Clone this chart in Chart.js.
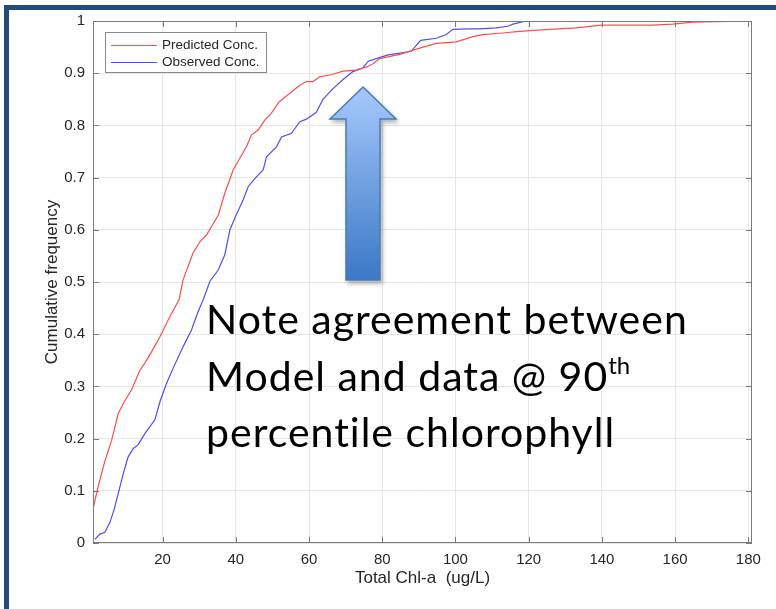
<!DOCTYPE html>
<html>
<head>
<meta charset="utf-8">
<script src="https://cdn.jsdelivr.net/npm/chart.js@4.4.1/dist/chart.umd.min.js"></script>
<style>
html, body { margin: 0; padding: 0; background: #fff; }
#wrap { position: relative; width: 776px; height: 609px; overflow: hidden; background: #fff; }
#frame { position: absolute; left: 4px; top: 5px; width: 900px; height: 700px;
         border-top: 5px solid #24497d; border-left: 5px solid #24497d; }
#c { position: absolute; left: 0; top: 0; }
#arrow { position: absolute; left: 0; top: 0; }
#note { position: absolute; left: 206px; top: 291px; font: 41px Lato, sans-serif; letter-spacing: 1px;
        line-height: 56.5px; color: #000; white-space: nowrap; }
#note sup { font-size: 24px; vertical-align: 17px; line-height: 0; letter-spacing: 0; }
#legend { position: absolute; left: 105px; top: 32px; width: 160px; height: 39px;
          border: 1px solid #8a8a8a; background: #fff;
          font: 13.5px "Liberation Sans", Arial, sans-serif; color: #262626; }
.row { position: absolute; left: 0; width: 160px; height: 18px; line-height: 18px; }
.sw { position: absolute; left: 5px; top: 9px; width: 46px; height: 0; border-top: 1px solid; }
.lab { position: absolute; left: 56px; white-space: nowrap; }
</style>
</head>
<body>
<div id="wrap">
  <canvas id="c" width="776" height="609"></canvas>
  <div id="frame"></div>
  <svg id="arrow" width="776" height="609">
    <defs>
      <linearGradient id="g" x1="0" y1="0" x2="0" y2="1">
        <stop offset="0" stop-color="#a6c9fc"/>
        <stop offset="1" stop-color="#3b78c6"/>
      </linearGradient>
      <filter id="sh" x="-30%" y="-10%" width="160%" height="130%">
        <feDropShadow dx="2" dy="3" stdDeviation="2" flood-color="#000" flood-opacity="0.3"/>
      </filter>
    </defs>
    <polygon points="363,87 396,119 380,119 380,280 346,280 346,119 330,119"
             fill="url(#g)" stroke="#4a7ab3" stroke-width="1.5" filter="url(#sh)"/>
  </svg>
  <div id="note">Note agreement between<br>Model and data @ 90<sup>th</sup><br>percentile chlorophyll</div>
  <div id="legend">
    <div class="row" style="top:3px"><span class="sw" style="border-color:#ff4d4d"></span><span class="lab">Predicted Conc.</span></div>
    <div class="row" style="top:20px"><span class="sw" style="border-color:#4d4dff"></span><span class="lab">Observed Conc.</span></div>
  </div>
</div>
<script>
// Predicted (model) cumulative frequency
const predX = [1, 2.4, 4.2, 6.1, 7.9, 9.5, 11.5, 13.8, 15.2, 17.3, 19.3, 22, 24.5, 25.6, 28.3, 30.2, 32, 35.2, 37, 39.3,
  41.1, 42.9, 44.3, 46.1, 47.9, 49.7, 51.8, 54.7, 57.5, 59.3, 61.1, 62.9, 66.1, 69.3, 72.9, 75.7, 77.5, 79.3, 84.8,
  89.3, 94.8, 100.2, 104.8, 107.5, 112.9, 117.5, 125.7, 133, 139.8, 153.9, 159.3, 164.8, 181];
const predY = [0.065, 0.108, 0.156, 0.197, 0.248, 0.27, 0.293, 0.331, 0.345, 0.37, 0.395, 0.434, 0.466, 0.504, 0.555,
  0.577, 0.59, 0.628, 0.67, 0.715, 0.737, 0.759, 0.782, 0.791, 0.81, 0.823, 0.845, 0.861, 0.877, 0.884, 0.884, 0.893,
  0.897, 0.904, 0.906, 0.912, 0.918, 0.928, 0.936, 0.946, 0.957, 0.96, 0.97, 0.974, 0.977, 0.98, 0.984, 0.987, 0.992,
  0.992, 0.994, 0.998, 1.0];

// Observed cumulative frequency
const obsX = [1.5, 2.9, 4.2, 5.6, 6.8, 7.9, 9.3, 10.6, 12, 13.3, 15.2, 17.9, 19.3, 21.1, 22.9, 25.6, 27.9, 29.7, 31.1,
  32.9, 35.2, 37, 38.4, 40.2, 42, 43.4, 45.7, 47.5, 48.4, 51.1, 52.5, 55.2, 57.5, 59.3, 62, 63.8, 66.5, 69.3, 72, 74.7,
  76.2, 78.4, 81.6, 84.5, 87.9, 90.5, 94.8, 97.5, 99.3, 103.8, 106.6, 111.1, 114.3, 115.7, 119.3, 127];
const obsY = [0.007, 0.017, 0.02, 0.039, 0.065, 0.095, 0.134, 0.165, 0.181, 0.188, 0.21, 0.236, 0.271, 0.306, 0.335,
  0.376, 0.408, 0.443, 0.466, 0.501, 0.523, 0.552, 0.6, 0.63, 0.657, 0.683, 0.702, 0.715, 0.74, 0.759, 0.778, 0.785,
  0.807, 0.812, 0.825, 0.85, 0.87, 0.888, 0.903, 0.91, 0.923, 0.928, 0.935, 0.938, 0.942, 0.963, 0.967, 0.974, 0.984,
  0.985, 0.985, 0.987, 0.99, 0.994, 1.0, 1.0];

const xTicks = [20, 40, 60, 80, 100, 120, 140, 160, 180];
const yTicks = [0, 0.1, 0.2, 0.3, 0.4, 0.5, 0.6, 0.7, 0.8, 0.9, 1];

const tickFont = { family: '"Liberation Sans", Arial, sans-serif', size: 15 };
const titleFont = { family: '"Liberation Sans", Arial, sans-serif', size: 17 };

// MATLAB style box with inward ticks on all four sides
const boxPlugin = {
  id: 'box',
  afterDatasetsDraw(chart) {
    const { ctx, chartArea: a, scales: { x, y } } = chart;
    ctx.save();
    ctx.strokeStyle = '#7a7a7a';
    ctx.lineWidth = 1;
    ctx.strokeRect(a.left + 0.5, a.top + 0.5, a.right - a.left - 1, a.bottom - a.top - 1);
    ctx.beginPath();
    xTicks.forEach(v => {
      const px = Math.round(x.getPixelForValue(v)) + 0.5;
      ctx.moveTo(px, a.bottom); ctx.lineTo(px, a.bottom - 6);
      ctx.moveTo(px, a.top); ctx.lineTo(px, a.top + 6);
    });
    yTicks.forEach(v => {
      const py = Math.round(y.getPixelForValue(v)) + 0.5;
      ctx.moveTo(a.left, py); ctx.lineTo(a.left + 6, py);
      ctx.moveTo(a.right, py); ctx.lineTo(a.right - 6, py);
    });
    ctx.stroke();
    ctx.restore();
  }
};

new Chart(document.getElementById('c'), {
  type: 'line',
  data: {
    datasets: [
      {
        label: 'Predicted Conc.',
        data: predX.map((v, i) => ({ x: v, y: predY[i] })),
        borderColor: '#ff4d4d',
        borderWidth: 1.2,
        pointRadius: 0,
        tension: 0
      },
      {
        label: 'Observed Conc.',
        data: obsX.map((v, i) => ({ x: v, y: obsY[i] })),
        borderColor: '#4d4dff',
        borderWidth: 1.2,
        pointRadius: 0,
        tension: 0
      }
    ]
  },
  options: {
    responsive: false,
    animation: false,
    devicePixelRatio: 1,
    layout: { padding: { left: 40, top: 21, right: 24, bottom: 16 } },
    plugins: { legend: { display: false }, tooltip: { enabled: false } },
    scales: {
      x: {
        type: 'linear',
        min: 1,
        max: 181,
        afterBuildTicks: s => { s.ticks = xTicks.map(v => ({ value: v })); },
        afterFit: s => { s.height = 50; },
        ticks: { font: tickFont, color: '#262626', padding: 8, callback: v => String(v), maxRotation: 0, autoSkip: false },
        grid: { color: '#e6e6e6', drawTicks: false },
        border: { display: false },
        title: { display: true, text: 'Total Chl-a  (ug/L)', font: titleFont, color: '#262626', padding: { top: 4, bottom: 4 } }
      },
      y: {
        min: 0,
        max: 1,
        afterBuildTicks: s => { s.ticks = yTicks.map(v => ({ value: v })); },
        afterFit: s => { s.width = 53; },
        ticks: { font: tickFont, color: '#262626', padding: 8, callback: v => String(v), autoSkip: false },
        grid: { color: '#e6e6e6', drawTicks: false },
        border: { display: false },
        title: { display: true, text: 'Cumulative frequency', font: titleFont, color: '#262626', padding: { top: 2, bottom: 4 } }
      }
    }
  },
  plugins: [boxPlugin]
});
</script>
</body>
</html>
